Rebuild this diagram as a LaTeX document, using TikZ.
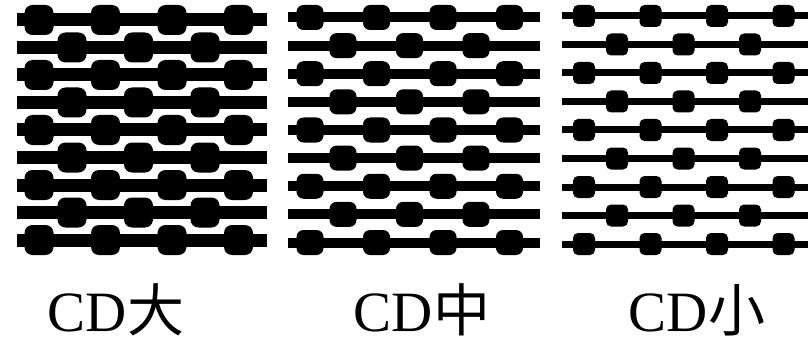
\documentclass[tikz,border=0pt]{standalone}
\usepackage{fontspec}
\setmainfont{Liberation Serif}
\newfontfamily\cjkfont{Noto Sans CJK SC}
\tikzset{
  cdtext/.style={
    anchor=base,
    inner sep=0pt,
    font=\fontsize{57}{57}\selectfont
  },
  bar/.style={
    line cap=butt,
    black
  }
}
% #1 left end, #2 right end, #3 bar width, #4 blob width, #5 blob height, #6 corner radius
\newcommand{\cdpanel}[6]{%
  \foreach \i in {0,...,8}{
    \pgfmathsetmacro{\yy}{5+#5/2+\i*(250-#5)/8}
    \draw[bar, line width=#3] (#1,\yy) -- (#2,\yy);
    \pgfmathtruncatemacro{\odd}{mod(\i,2)}
    \ifnum\odd=0 \def\xs{22,88.5,155,221.5}\else \def\xs{55,121.5,188}\fi
    \foreach \xo in \xs {
      \fill[rounded corners=#6] (#1+\xo-#4/2,\yy-#5/2) rectangle ++(#4,#5);
    }
  }%
}

\begin{document}
\begin{tikzpicture}[x=1pt,y=-1pt]
\useasboundingbox (0,0) rectangle (808,342);
% the three patterns
\cdpanel{17}{267}{13}{29}{30}{8}
\cdpanel{288}{540}{10}{27}{25}{7}
\cdpanel{562}{808}{7}{22}{22}{5}
% captions
\node[cdtext] (big) at (116,331) {CD{\cjkfont 大}};
\node[cdtext] (mid) at (422,331) {CD{\cjkfont 中}};
\node[cdtext] (small) at (697,331) {CD{\cjkfont 小}};
\end{tikzpicture}
\end{document}
